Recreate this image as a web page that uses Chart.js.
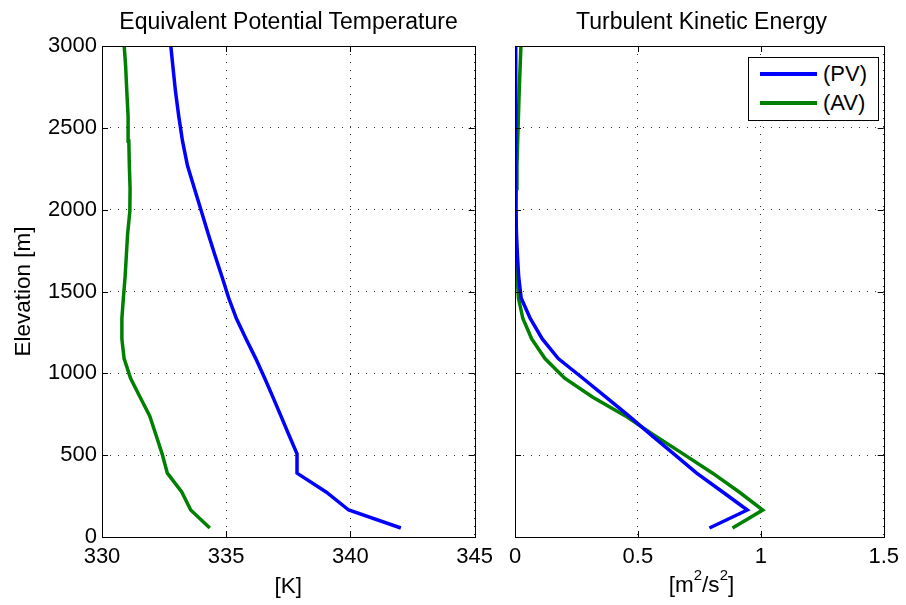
<!DOCTYPE html>
<html>
<head>
<meta charset="utf-8">
<script src="https://cdn.jsdelivr.net/npm/chart.js@4"></script>
<style>
  body { margin: 0; background: #fff; width: 906px; height: 605px; overflow: hidden; position: relative; font-family: "Liberation Sans", Arial, sans-serif; }
  canvas { position: absolute; top: 0; }
  #leftChart { left: 0; }
  #rightChart { left: 490px; }
  .ptitle { position: absolute; top: 8px; height: 26px; font-size: 23px; line-height: 26px; color: #000; text-align: center; white-space: nowrap; }
  .xtitle { position: absolute; top: 572px; height: 26px; font-size: 22.5px; line-height: 26px; color: #000; text-align: center; white-space: nowrap; }
  .xtitle sup { font-size: 15px; line-height: 0; position: relative; top: -4px; }
  #legend { position: absolute; left: 748px; top: 57px; width: 129px; height: 62px; border: 1px solid #000; background: #fff; }
  #legend .row { position: absolute; left: 0; height: 26px; font-size: 22px; line-height: 26px; color: #000; }
  #legend .swatch { position: absolute; left: 11px; top: 11px; width: 57px; height: 4px; }
  #legend .txt { position: absolute; left: 74px; top: 0; white-space: nowrap; }
</style>
</head>
<body>
<canvas id="leftChart" width="500" height="605"></canvas>
<canvas id="rightChart" width="416" height="605"></canvas>
<div class="ptitle" style="left:102px; width:373px;">Equivalent Potential Temperature</div>
<div class="ptitle" style="left:515px; width:373px;">Turbulent Kinetic Energy</div>
<div class="xtitle" style="left:515px; width:373px;">[m<sup>2</sup>/s<sup>2</sup>]</div>
<div id="legend"></div>
<script>
// Höhenstufen (Modellniveaus), in m
const elevation = [55, 165, 275, 390, 508, 625, 740, 855, 970, 1090, 1210, 1335, 1460, 1590, 1720, 1850, 1990, 2130, 2270, 2420, 2570, 2720, 2880, 3030];

// Equivalent potential temperature [K]
const thetaPV = [342.03, 339.93, 339.02, 337.85, 337.85, 337.52, 337.20, 336.88, 336.55, 336.19, 335.80, 335.41, 335.10, 334.83, 334.55, 334.28, 334.00, 333.72, 333.44, 333.24, 333.09, 332.96, 332.85, 332.75];
const thetaAV = [334.34, 333.57, 333.21, 332.63, 332.42, 332.17, 331.92, 331.53, 331.15, 330.89, 330.80, 330.80, 330.86, 330.93, 330.98, 331.03, 331.12, 331.13, 331.10, 331.08, 331.05, 331.00, 330.95, 330.88];

// Turbulent kinetic energy [m2/s2]
const tkePV = [0.791, 0.945, 0.845, 0.739, 0.646, 0.552, 0.463, 0.370, 0.276, 0.176, 0.111, 0.062, 0.025, 0.015, 0.010, 0.006, 0.004, 0.003, 0.003, 0.003, 0.003, 0.003, 0.003, 0.003];
const tkeAV = [0.885, 1.008, 0.912, 0.804, 0.684, 0.563, 0.449, 0.315, 0.202, 0.122, 0.068, 0.032, 0.014, 0.009, 0.006, 0.004, 0.004, 0.005, 0.008, 0.011, 0.014, 0.017, 0.021, 0.025];

const seriesNames = ['(PV)', '(AV)'];
const seriesColors = ['#0000ff', '#008000'];

const elevTicks = [0, 500, 1000, 1500, 2000, 2500, 3000];
const thetaTicks = [330, 335, 340, 345];
const tkeTicks = [0, 0.5, 1, 1.5];

const FONT = "'Liberation Sans', Arial, sans-serif";

function toPoints(vals) {
  return elevation.map((e, i) => ({ x: vals[i], y: e }));
}

// Rahmen + Ticks nach innen (wie MATLAB)
const boxPlugin = {
  id: 'box',
  afterDraw(chart) {
    const { ctx, chartArea: a, scales } = chart;
    ctx.save();
    ctx.strokeStyle = '#000';
    ctx.lineWidth = 1;
    ctx.strokeRect(Math.round(a.left) + 0.5, Math.round(a.top) + 0.5, Math.round(a.right - a.left), Math.round(a.bottom - a.top));
    const len = 6;
    ctx.beginPath();
    scales.x.ticks.forEach(t => {
      const px = Math.round(scales.x.getPixelForValue(t.value)) + 0.5;
      ctx.moveTo(px, a.bottom); ctx.lineTo(px, a.bottom - len);
      ctx.moveTo(px, a.top); ctx.lineTo(px, a.top + len);
    });
    scales.y.ticks.forEach(t => {
      const py = Math.round(scales.y.getPixelForValue(t.value)) + 0.5;
      ctx.moveTo(a.left, py); ctx.lineTo(a.left + len, py);
      ctx.moveTo(a.right, py); ctx.lineTo(a.right - len, py);
    });
    ctx.stroke();
    ctx.restore();
  }
};

function makeChart(id, opts) {
  const ctx = document.getElementById(id).getContext('2d');
  return new Chart(ctx, {
    type: 'scatter',
    data: {
      datasets: opts.series.map((vals, i) => ({
        label: seriesNames[i],
        data: toPoints(vals),
        showLine: true,
        borderColor: seriesColors[i],
        backgroundColor: seriesColors[i],
        borderWidth: 3.5,
        pointRadius: 0,
        tension: 0
      }))
    },
    options: {
      responsive: false,
      animation: false,
      devicePixelRatio: 1,
      layout: { padding: { left: 0, right: opts.padRight, top: 46, bottom: 0 } },
      plugins: {
        legend: { display: false },
        tooltip: { enabled: false },
        title: { display: false }
      },
      scales: {
        x: {
          type: 'linear',
          min: opts.xTicks[0],
          max: opts.xTicks[opts.xTicks.length - 1],
          afterBuildTicks: s => { s.ticks = opts.xTicks.map(v => ({ value: v })); },
          afterFit: s => { s.height = 68; },
          ticks: { color: '#000', font: { family: FONT, size: 22 }, padding: 7, maxRotation: 0, callback: v => String(v) },
          grid: { color: '#333', drawTicks: false, lineWidth: 1 },
          border: { display: false, dash: [1, 7] },
          title: { display: !!opts.xTitle, text: opts.xTitle, color: '#000', font: { family: FONT, size: 22.5 }, padding: { top: 0, bottom: 5 } }
        },
        y: {
          type: 'linear',
          min: 0,
          max: 3000,
          afterBuildTicks: s => { s.ticks = elevTicks.map(v => ({ value: v })); },
          afterFit: s => { s.width = opts.yWidth; },
          ticks: { display: opts.yLabels, color: '#000', font: { family: FONT, size: 22 }, padding: 5, callback: v => String(v) },
          grid: { color: '#333', drawTicks: false, lineWidth: 1 },
          border: { display: false, dash: [1, 7] },
          title: { display: opts.yLabels, text: 'Elevation [m]', color: '#000', font: { family: FONT, size: 22.5 }, padding: { top: 10, bottom: 0 } }
        }
      }
    },
    plugins: [boxPlugin]
  });
}

makeChart('leftChart', {
  series: [thetaPV, thetaAV],
  xTicks: thetaTicks,
  xTitle: '[K]',
  yLabels: true,
  yWidth: 102,
  padRight: 25
});

// x-Titel rechts als HTML (Hochstellung)
makeChart('rightChart', {
  series: [tkePV, tkeAV],
  xTicks: tkeTicks,
  xTitle: '',
  yLabels: false,
  yWidth: 25,
  padRight: 18
});

// Legende als HTML
const legend = document.getElementById('legend');
seriesNames.forEach((name, i) => {
  const row = document.createElement('div');
  row.className = 'row';
  row.style.top = (3 + i * 29) + 'px';
  row.innerHTML = '<span class="swatch" style="background:' + seriesColors[i] + '"></span><span class="txt">' + name + '</span>';
  legend.appendChild(row);
});
</script>
</body>
</html>
